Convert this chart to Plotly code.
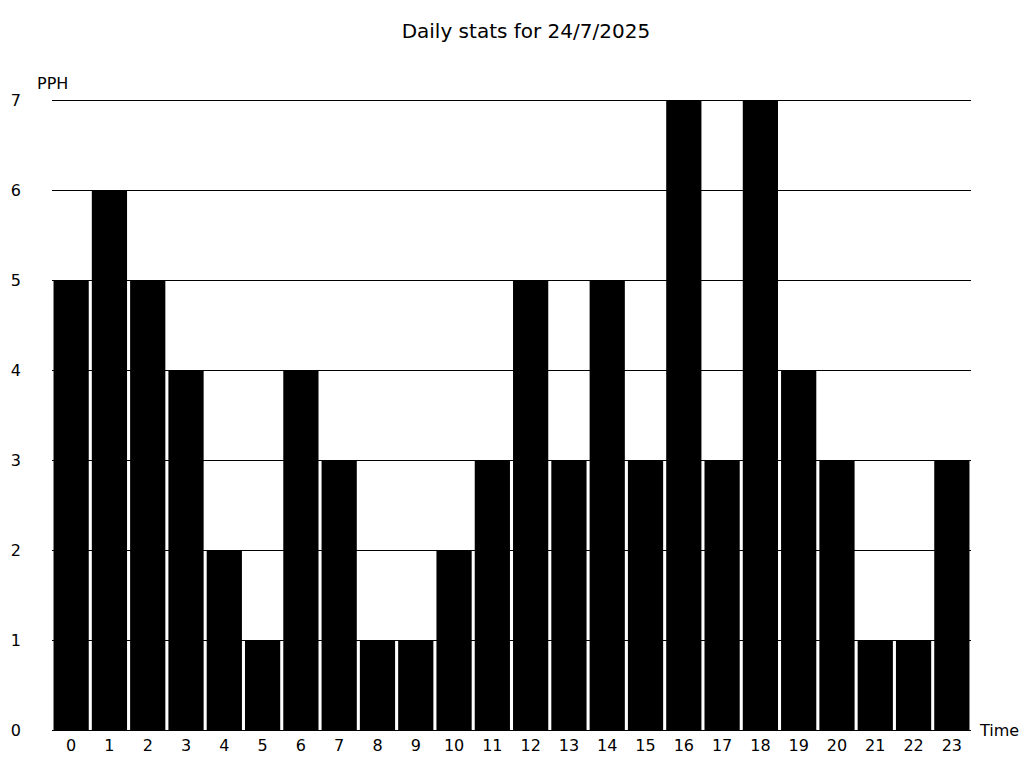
import plotly.graph_objects as go

hours = list(range(24))
hour_labels = [str(h) for h in hours]
pph = [5, 6, 5, 4, 2, 1, 4, 3, 1, 1, 2, 3, 5, 3, 5, 3, 7, 3, 7, 4, 3, 1, 1, 3]
y_ticks = [0, 1, 2, 3, 4, 5, 6, 7]

FONT = "DejaVu Sans"

fig = go.Figure(go.Bar(x=hours, y=pph, marker=dict(color="black", line=dict(width=0))))

fig.update_layout(
    width=1024, height=768,
    paper_bgcolor="white", plot_bgcolor="white",
    margin=dict(l=52, r=53, t=98, b=38, autoexpand=False),
    bargap=0.08,
    showlegend=False,
    font=dict(family=FONT, color="black", size=16),
    title=dict(text="Daily stats for 24/7/2025", x=0.5136, xanchor="center",
               y=1 - 31 / 768, yanchor="middle", font=dict(family=FONT, size=20, color="black")),
    xaxis=dict(range=[-0.5, 23.5], tickmode="array", tickvals=hours, ticktext=hour_labels,
               showgrid=False, zeroline=False, showline=False, ticks="",
               tickfont=dict(size=16), ticklabelstandoff=4, automargin=False),
    yaxis=dict(range=[0, 7.0222], tickmode="array", tickvals=y_ticks, ticktext=[str(v) for v in y_ticks],
               showgrid=True, gridcolor="black", gridwidth=1, zeroline=True, zerolinecolor="black",
               zerolinewidth=1, showline=False, ticks="", tickfont=dict(size=16),
               ticklabelstandoff=30, automargin=False),
    annotations=[
        dict(text="PPH", xref="paper", yref="paper", x=0.0, y=1.0, xanchor="center",
             yanchor="middle", yshift=15, showarrow=False, font=dict(family=FONT, size=16)),
        dict(text="Time", xref="paper", yref="paper", x=1.0, y=0.0, xanchor="left",
             yanchor="middle", xshift=6, showarrow=False, font=dict(family=FONT, size=16)),
    ],
)

fig.write_html("out.html", config={"displayModeBar": False},
               post_script="document.body.style.margin='0';document.body.style.padding='0';")
